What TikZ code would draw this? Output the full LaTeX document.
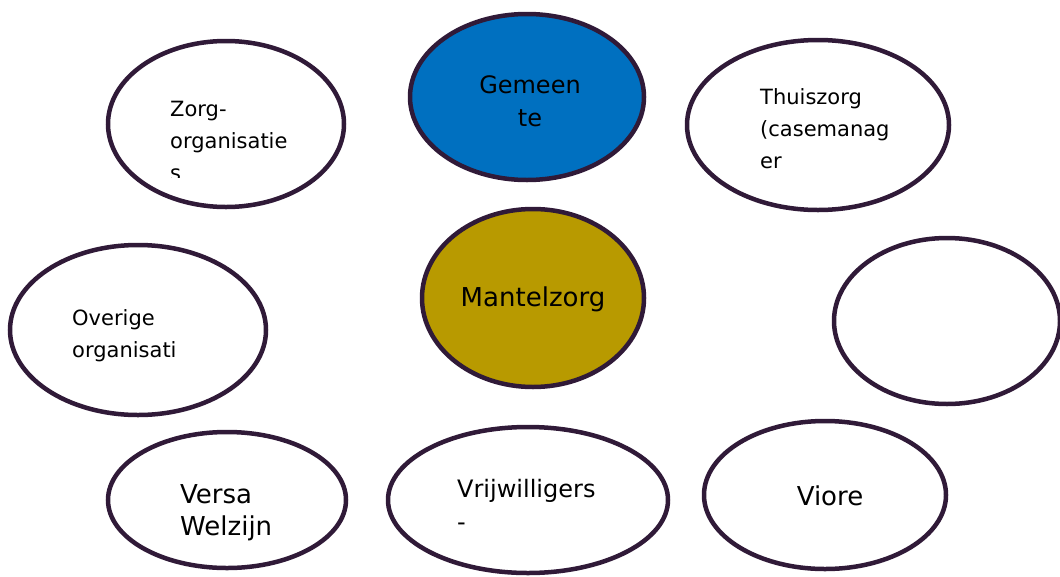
\documentclass[tikz,border=0pt]{standalone}
\usepackage{fontspec}
\setmainfont{DejaVu Sans}
\usetikzlibrary{shapes.geometric}
\definecolor{rand}{HTML}{301A38}
\definecolor{gemeenteblauw}{HTML}{0070C0}
\definecolor{mantelgoud}{HTML}{B89A00}
\tikzset{
  partner/.style={ellipse,draw=rand,line width=4.5pt,fill=white,inner sep=0pt},
  tekstklein/.style={font=\fontsize{21}{32}\selectfont,align=left,inner sep=0pt,anchor=west},
  tekstmidden/.style={font=\fontsize{24}{33}\selectfont,align=left,inner sep=0pt,anchor=west},
  tekstgroot/.style={font=\fontsize{26}{32}\selectfont,align=left,inner sep=0pt,anchor=west}
}

\begin{document}
\begin{tikzpicture}[x=1pt,y=-1pt]
\useasboundingbox[fill=white] (0,0) rectangle (1060,576);
% de partners rondom
\node[partner,minimum width=236pt,minimum height=166pt] (zorg) at (226,124) {};
\node[partner,fill=gemeenteblauw,minimum width=234pt,minimum height=166pt] (gemeente) at (527,97) {};
\node[partner,minimum width=262pt,minimum height=170pt] (thuis) at (818,125) {};
\node[partner,fill=mantelgoud,minimum width=222pt,minimum height=178pt] (mantel) at (533,298) {};
\node[partner,minimum width=256pt,minimum height=170pt] (overige) at (138,330) {};
\node[partner,minimum width=226pt,minimum height=166pt] (leeg) at (947,321) {};
\node[partner,minimum width=238pt,minimum height=136pt] (versa) at (227,500) {};
\node[partner,minimum width=280pt,minimum height=146pt] (vrijw) at (528,500) {};
\node[partner,minimum width=242pt,minimum height=148pt] (viore) at (825,495) {};
% teksten
\begin{scope}
\clip (150,60) rectangle (320,177);
\node[tekstklein] (zorg-t) at (170,141) {Zorg-\\organisatie\\s};
\end{scope}
\node[tekstmidden,align=center,anchor=center] (gemeente-t) at (530,101) {Gemeen\\te};
\node[tekstklein] (thuis-t) at (760,129) {Thuiszorg\\(casemanag\\er};
\node[tekstgroot,anchor=center] (mantel-t) at (533,299) {Mantelzorg};
\node[tekstklein] (overige-t) at (72,336) {Overige\\organisati};
\node[tekstgroot] (versa-t) at (180,513) {Versa\\Welzijn};
\node[tekstmidden] (vrijw-t) at (457,505) {Vrijwilligers\\-};
\node[tekstgroot,anchor=center] (viore-t) at (830,496) {Viore};
\end{tikzpicture}
\end{document}
